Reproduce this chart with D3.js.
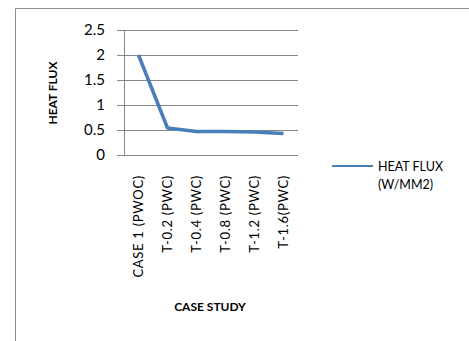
<!DOCTYPE html>
<html><head><meta charset="utf-8">
<script src="https://cdn.jsdelivr.net/npm/d3@7"></script>
<style>body{margin:0;background:#fff;}svg{display:block;font-family:Lato,"Open Sans",sans-serif;}</style>
</head><body>
<svg id="c" width="469" height="341"></svg>
<script>
const categories = ["CASE 1 (PWOC)", "T-0.2 (PWC)", "T-0.4 (PWC)", "T-0.8 (PWC)", "T-1.2 (PWC)", "T-1.6(PWC)"];
const heatFlux = [2.0, 0.54, 0.47, 0.47, 0.46, 0.43];
const yTicks = [0, 0.5, 1, 1.5, 2, 2.5];
const seriesName = ["HEAT FLUX", "(W/MM2)"];

const svg = d3.select("#c");
// outer frame
svg.append("path").attr("d", "M15.5,341 V8.5 H469").attr("fill", "none").attr("stroke", "#8c8c8c").attr("stroke-width", 1);

const x = d3.scaleBand().domain(categories).range([124, 298]);
const y = d3.scaleLinear().domain([0, 2.5]).range([155, 30]);

// gridlines
svg.append("g").selectAll("line").data(yTicks).join("line")
  .attr("x1", 117).attr("x2", 298)
  .attr("y1", d => Math.round(y(d)) + 0.5).attr("y2", d => Math.round(y(d)) + 0.5)
  .attr("stroke", "#868686").attr("stroke-width", 1);
// y axis line
svg.append("line").attr("x1", 124.5).attr("x2", 124.5).attr("y1", y(2.5)).attr("y2", y(0) + 1)
  .attr("stroke", "#868686");

// y tick labels
svg.append("g").selectAll("text").data(yTicks).join("text")
  .attr("x", 105).attr("y", d => y(d)).attr("dy", "0.35em")
  .attr("text-anchor", "end").attr("font-size", 15).attr("fill", "#000")
  .text(d => d3.format("")(d));

// x tick labels (rotated)
svg.append("g").selectAll("text").data(categories).join("text")
  .attr("transform", d => `translate(${x(d) + x.bandwidth() / 2 + 4},175) rotate(-90)`)
  .attr("text-anchor", "end").attr("font-size", 13).attr("fill", "#000")
  .attr("letter-spacing", 0.7)
  .text(d => d);

// axis titles
svg.append("text").attr("transform", "translate(57,93) rotate(-90)")
  .attr("text-anchor", "middle").attr("font-size", 12).attr("font-weight", "bold").text("HEAT FLUX");
svg.append("text").attr("x", 210).attr("y", 311)
  .attr("text-anchor", "middle").attr("font-size", 12).attr("font-weight", "bold").text("CASE STUDY");

// line
const line = d3.line().x((d, i) => x(categories[i]) + x.bandwidth() / 2).y(d => y(d));
svg.append("path").datum(heatFlux).attr("d", line)
  .attr("fill", "none").attr("stroke", "#4a7ebb").attr("stroke-width", 3.5).attr("stroke-linejoin", "round");

// legend
svg.append("line").attr("x1", 332).attr("x2", 373).attr("y1", 166).attr("y2", 166)
  .attr("stroke", "#4a7ebb").attr("stroke-width", 2);
svg.append("g").selectAll("text").data(seriesName).join("text")
  .attr("x", 378).attr("y", (d, i) => 171 + i * 18).attr("font-size", 12.5).attr("fill", "#000").text(d => d);
</script>
</body></html>
